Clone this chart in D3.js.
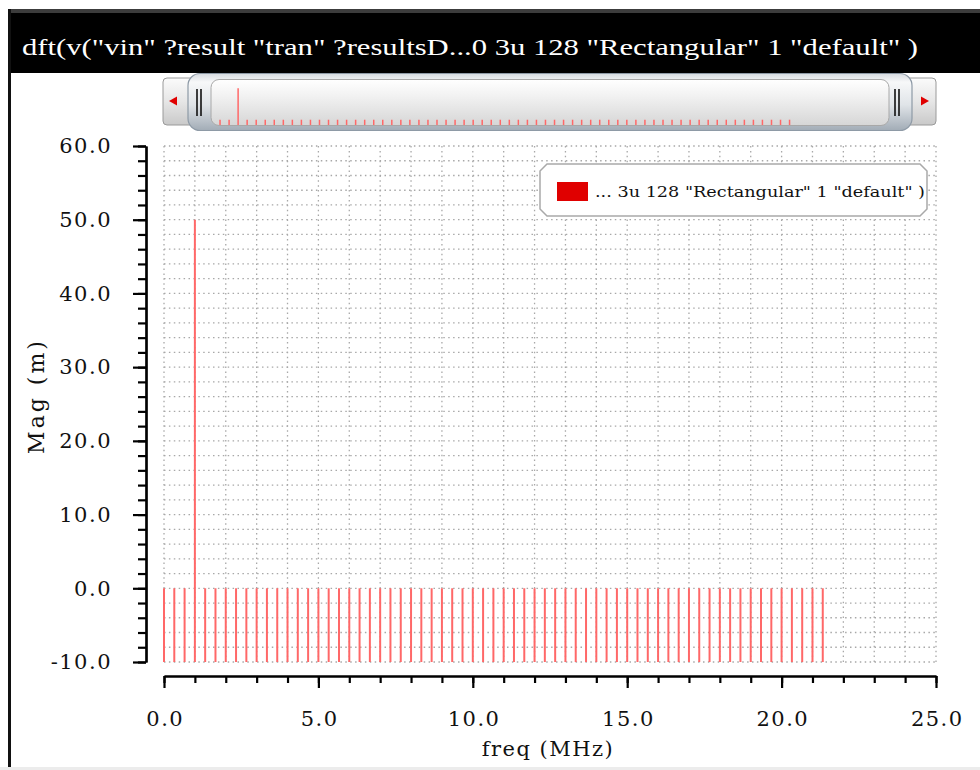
<!DOCTYPE html>
<html>
<head>
<meta charset="utf-8">
<script src="https://cdn.jsdelivr.net/npm/d3@7/dist/d3.min.js"></script>
<style>
  html, body { margin: 0; padding: 0; background: #ffffff; }
  svg { display: block; }
</style>
</head>
<body>
<svg id="chart" width="980" height="770"></svg>
<script>
// DFT bins of v("vin"): 128 points over 3u -> bin spacing 1/3 MHz
const freqMHz = [
  0, 0.333, 0.667, 1, 1.333, 1.667, 2, 2.333, 2.667, 3, 3.333, 3.667, 4,
  4.333, 4.667, 5, 5.333, 5.667, 6, 6.333, 6.667, 7, 7.333, 7.667, 8,
  8.333, 8.667, 9, 9.333, 9.667, 10, 10.333, 10.667, 11, 11.333, 11.667, 12,
  12.333, 12.667, 13, 13.333, 13.667, 14, 14.333, 14.667, 15, 15.333, 15.667, 16,
  16.333, 16.667, 17, 17.333, 17.667, 18, 18.333, 18.667, 19, 19.333, 19.667, 20,
  20.333, 20.667, 21, 21.333
];
// magnitude in m (milli-units), one per bin
const magM = [
  0, 0, 0, 50, 0, 0, 0, 0, 0, 0, 0, 0, 0,
  0, 0, 0, 0, 0, 0, 0, 0, 0, 0, 0, 0,
  0, 0, 0, 0, 0, 0, 0, 0, 0, 0, 0, 0,
  0, 0, 0, 0, 0, 0, 0, 0, 0, 0, 0, 0,
  0, 0, 0, 0, 0, 0, 0, 0, 0, 0, 0, 0,
  0, 0, 0, 0
];
const xMajorTicks = [0, 5, 10, 15, 20, 25];
const yMajorTicks = [-10, 0, 10, 20, 30, 40, 50, 60];
const xDomain = [0, 25];
const yDomain = [-10, 60];
const titleText = 'dft(v("vin" ?result "tran" ?resultsD...0 3u 128 "Rectangular" 1 "default" )';
const legendLabel = '... 3u 128 "Rectangular" 1 "default" )';
const xAxisTitle = 'freq (MHz)';
const yAxisTitle = 'Mag (m)';

const svg = d3.select('#chart');
const serif = '"DejaVu Serif", serif';
const traceColor = '#ff6868';

// plot frame
const plot = { left: 164, right: 936, top: 146, bottom: 662 };
const x = d3.scaleLinear().domain(xDomain).range([plot.left, plot.right]);
const y = d3.scaleLinear().domain(yDomain).range([plot.bottom, plot.top]);
const xMinorTicks = d3.range(xDomain[0], xDomain[1] + 0.001, 1);
const yMinorTicks = d3.range(yDomain[0], yDomain[1] + 0.001, 2);

const defs = svg.append('defs');
function vGrad(id, stops) {
  const g = defs.append('linearGradient').attr('id', id)
    .attr('x1', 0).attr('y1', 0).attr('x2', 0).attr('y2', 1);
  stops.forEach(([o, c]) => g.append('stop').attr('offset', o).attr('stop-color', c));
}
vGrad('btnGrad', [[0, '#fbfbfb'], [0.5, '#e6e6e6'], [1, '#c9c9c9']]);
vGrad('thumbGrad', [[0, '#d6dbe0'], [0.15, '#f7f8f9'], [0.55, '#e0e4e8'], [1, '#a2acb6']]);
vGrad('panelGrad', [[0, '#ffffff'], [0.35, '#f2f2f2'], [1, '#d6d6d6']]);

// window chrome: title bar and left border
svg.append('rect').attr('x', 0).attr('y', 0).attr('width', 980).attr('height', 770).attr('fill', '#ffffff');
svg.append('rect').attr('x', 8).attr('y', 9).attr('width', 972).attr('height', 64).attr('fill', '#000000');
svg.append('rect').attr('x', 8).attr('y', 9).attr('width', 972).attr('height', 4).attr('fill', '#3c3c3c');
svg.append('rect').attr('x', 8).attr('y', 9).attr('width', 3).attr('height', 758).attr('fill', '#111111');
svg.append('rect').attr('x', 0).attr('y', 767).attr('width', 980).attr('height', 3).attr('fill', '#ececec');
svg.append('text')
  .attr('x', 22).attr('y', 55)
  .attr('fill', '#ffffff')
  .attr('font-family', '"Liberation Serif", serif')
  .attr('font-size', 24)
  .attr('textLength', 896).attr('lengthAdjust', 'spacingAndGlyphs')
  .text(titleText);

// scroll / overview bar
const sb = svg.append('g');
sb.append('rect').attr('x', 163).attr('y', 78).attr('width', 32).attr('height', 47).attr('rx', 4)
  .attr('fill', 'url(#btnGrad)').attr('stroke', '#9a9a9a');
sb.append('path').attr('d', 'M169,101 L177,96.5 L177,105.5 Z').attr('fill', '#e00000');
sb.append('rect').attr('x', 905).attr('y', 78).attr('width', 31).attr('height', 47).attr('rx', 4)
  .attr('fill', 'url(#btnGrad)').attr('stroke', '#9a9a9a');
sb.append('path').attr('d', 'M929,101 L921,96.5 L921,105.5 Z').attr('fill', '#e00000');
sb.append('rect').attr('x', 188).attr('y', 73.5).attr('width', 724).attr('height', 57).attr('rx', 12)
  .attr('fill', 'url(#thumbGrad)').attr('stroke', '#8e9aa6').attr('stroke-width', 1.2);
sb.append('rect').attr('x', 211).attr('y', 79.5).attr('width', 678).attr('height', 46).attr('rx', 8)
  .attr('fill', 'url(#panelGrad)').attr('stroke', '#a8a8a8');
[197, 201, 895, 899].forEach(gx => {
  sb.append('line').attr('x1', gx).attr('x2', gx).attr('y1', 89).attr('y2', 116)
    .attr('stroke', '#111').attr('stroke-width', 1.6);
});
defs.append('clipPath').attr('id', 'miniClip')
  .append('rect').attr('x', 212).attr('y', 80).attr('width', 676).attr('height', 45);
const xMini = d3.scaleLinear().domain(xDomain).range([211, 889]);
const yMini = d3.scaleLinear().domain(yDomain).range([126, 82]);
sb.append('g').attr('clip-path', 'url(#miniClip)')
  .selectAll('line').data(freqMHz).join('line')
  .attr('x1', d => xMini(d)).attr('x2', d => xMini(d))
  .attr('y1', yMini(yDomain[0]))
  .attr('y2', (d, i) => yMini(magM[i]))
  .attr('stroke', traceColor).attr('stroke-width', 1.5);

// dotted grid
const grid = svg.append('g');
grid.selectAll('line.gv').data(xMinorTicks).join('line').attr('class', 'gv')
  .attr('x1', d => x(d)).attr('x2', d => x(d))
  .attr('y1', plot.top).attr('y2', plot.bottom)
  .attr('stroke', '#a8a8a8').attr('stroke-width', 1.3).attr('stroke-dasharray', '1.5,3.4');
grid.selectAll('line.gh').data(yMinorTicks).join('line').attr('class', 'gh')
  .attr('x1', plot.left).attr('x2', plot.right + 1)
  .attr('y1', d => y(d)).attr('y2', d => y(d))
  .attr('stroke', '#a8a8a8').attr('stroke-width', 1.3).attr('stroke-dasharray', '1.5,3.4');

// spectrum bars, drawn up from the bottom of the axis
svg.append('g').selectAll('line').data(freqMHz).join('line')
  .attr('x1', d => x(d)).attr('x2', d => x(d))
  .attr('y1', y(yDomain[0]))
  .attr('y2', (d, i) => y(magM[i]))
  .attr('stroke', traceColor).attr('stroke-width', 2);

// axes (detached from the plot area)
const fmt1 = d3.format('.1f');
const fmt = v => fmt1(v).replace('\u2212', '-');
const yAxisX = 146, xAxisY = 676;
function styleAxis(g) {
  g.select('.domain').attr('stroke', '#000').attr('stroke-width', 2.2);
  g.selectAll('.tick line').attr('stroke', '#000').attr('stroke-width', 2.2);
}
const yAxisMinor = svg.append('g').attr('transform', `translate(${yAxisX},0)`)
  .call(d3.axisLeft(y).tickValues(yMinorTicks).tickSize(8).tickSizeOuter(0).tickFormat(''));
styleAxis(yAxisMinor);
const yAxisMajor = svg.append('g').attr('transform', `translate(${yAxisX},0)`)
  .call(d3.axisLeft(y).tickValues(yMajorTicks).tickSize(13).tickSizeOuter(0).tickPadding(21).tickFormat(fmt));
styleAxis(yAxisMajor);
yAxisMajor.selectAll('text')
  .attr('font-family', serif).attr('font-size', 21).attr('letter-spacing', 1.5).attr('fill', '#111');

const xAxisMinor = svg.append('g').attr('transform', `translate(0,${xAxisY})`)
  .call(d3.axisBottom(x).tickValues(xMinorTicks).tickSize(7).tickSizeOuter(0).tickFormat(''));
styleAxis(xAxisMinor);
const xAxisMajor = svg.append('g').attr('transform', `translate(0,${xAxisY})`)
  .call(d3.axisBottom(x).tickValues(xMajorTicks).tickSize(12).tickSizeOuter(0).tickPadding(23).tickFormat(fmt));
styleAxis(xAxisMajor);
xAxisMajor.selectAll('text')
  .attr('font-family', serif).attr('font-size', 21).attr('letter-spacing', 1.5).attr('dx', 0.75).attr('fill', '#111');

// axis titles
svg.append('text')
  .attr('x', 548).attr('y', 756).attr('text-anchor', 'middle')
  .attr('font-family', serif).attr('font-size', 21).attr('letter-spacing', 1.5).attr('fill', '#111')
  .text(xAxisTitle);
svg.append('text')
  .attr('transform', 'translate(44,396) rotate(-90)').attr('text-anchor', 'middle')
  .attr('font-family', serif).attr('font-size', 22).attr('letter-spacing', 3).attr('fill', '#111')
  .text(yAxisTitle);

// legend
const lg = svg.append('g');
const L = { x0: 540, x1: 927, y0: 164, y1: 216, c: 7 };
lg.append('path')
  .attr('d', `M${L.x0 + L.c},${L.y0} L${L.x1 - L.c},${L.y0} L${L.x1},${L.y0 + L.c} L${L.x1},${L.y1 - L.c}
              L${L.x1 - L.c},${L.y1} L${L.x0 + L.c},${L.y1} L${L.x0},${L.y1 - L.c} L${L.x0},${L.y0 + L.c} Z`)
  .attr('fill', '#ffffff').attr('stroke', '#a9a9a9').attr('stroke-width', 1.5);
lg.append('rect').attr('x', 557).attr('y', 182).attr('width', 31).attr('height', 19).attr('fill', '#e00000');
lg.append('text')
  .attr('x', 595).attr('y', 197)
  .attr('font-family', serif).attr('font-size', 15).attr('fill', '#111')
  .attr('textLength', 330).attr('lengthAdjust', 'spacingAndGlyphs')
  .text(legendLabel);
</script>
</body>
</html>
